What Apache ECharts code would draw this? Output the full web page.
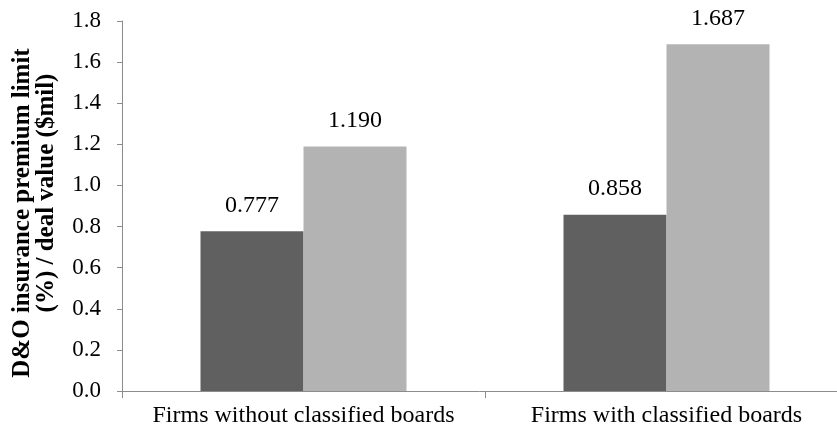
<!DOCTYPE html>
<html>
<head>
<meta charset="utf-8">
<script src="https://cdn.jsdelivr.net/npm/echarts@6/dist/echarts.min.js"></script>
<style>
  html, body { margin: 0; padding: 0; background: #fff; }
  #chart { width: 837px; height: 431px; }
</style>
</head>
<body>
<div id="chart"></div>
<script>
// Group labels along the x axis
var categories = ['Firms without classified boards', 'Firms with classified boards'];
// Two bars per group
var darkValues = [0.777, 0.858];
var lightValues = [1.190, 1.687];
// Y axis range
var yMin = 0, yMax = 1.8, yStep = 0.2;
// Y axis title, two lines
var yTitleLines = ['D&O insurance premium limit', '(%) / deal value ($mil)'];

var FONT = '"Liberation Serif", "Times New Roman", serif';
var AXIS_GRAY = '#8c8c8c';

var chart = echarts.init(document.getElementById('chart'), null, { renderer: 'canvas' });

function barLabel() {
  return {
    show: true,
    position: 'top',
    distance: 14,
    color: '#000',
    fontFamily: FONT,
    fontSize: 24,
    formatter: function (p) { return p.value.toFixed(3); }
  };
}

chart.setOption({
  animation: false,
  backgroundColor: '#fff',
  grid: { left: 122, right: -11, top: 21, bottom: 40, containLabel: false, outerBoundsMode: 'none' },
  xAxis: {
    type: 'category',
    data: categories,
    axisLine: { show: true, lineStyle: { color: AXIS_GRAY, width: 1 } },
    axisTick: { show: true, length: 7, alignWithLabel: false, lineStyle: { color: AXIS_GRAY } },
    axisLabel: { color: '#000', fontFamily: FONT, fontSize: 24, margin: 13, interval: 0 },
    splitLine: { show: false }
  },
  yAxis: {
    type: 'value',
    min: yMin,
    max: yMax,
    interval: yStep,
    axisLine: { show: true, lineStyle: { color: AXIS_GRAY, width: 1 } },
    axisTick: { show: true, length: 5, lineStyle: { color: AXIS_GRAY } },
    axisLabel: {
      color: '#000', fontFamily: FONT, fontSize: 23, margin: 21,
      formatter: function (v) { return v.toFixed(1); }
    },
    splitLine: { show: false }
  },
  series: [
    {
      name: 'Series A',
      type: 'bar',
      data: darkValues,
      barWidth: 103,
      barGap: '0%',
      itemStyle: { color: '#606060' },
      label: barLabel()
    },
    {
      name: 'Series B',
      type: 'bar',
      data: lightValues,
      barWidth: 103,
      barGap: '0%',
      itemStyle: { color: '#b3b3b3' },
      label: barLabel()
    }
  ],
  graphic: [
    {
      type: 'text',
      x: 23, y: 213,
      rotation: Math.PI / 2,
      style: {
        text: yTitleLines[0],
        fill: '#000',
        font: 'bold 25px ' + FONT,
        align: 'center',
        verticalAlign: 'middle'
      }
    },
    {
      type: 'text',
      x: 47, y: 193,
      rotation: Math.PI / 2,
      style: {
        text: yTitleLines[1],
        fill: '#000',
        font: 'bold 25px ' + FONT,
        align: 'center',
        verticalAlign: 'middle'
      }
    }
  ]
});
</script>
</body>
</html>
